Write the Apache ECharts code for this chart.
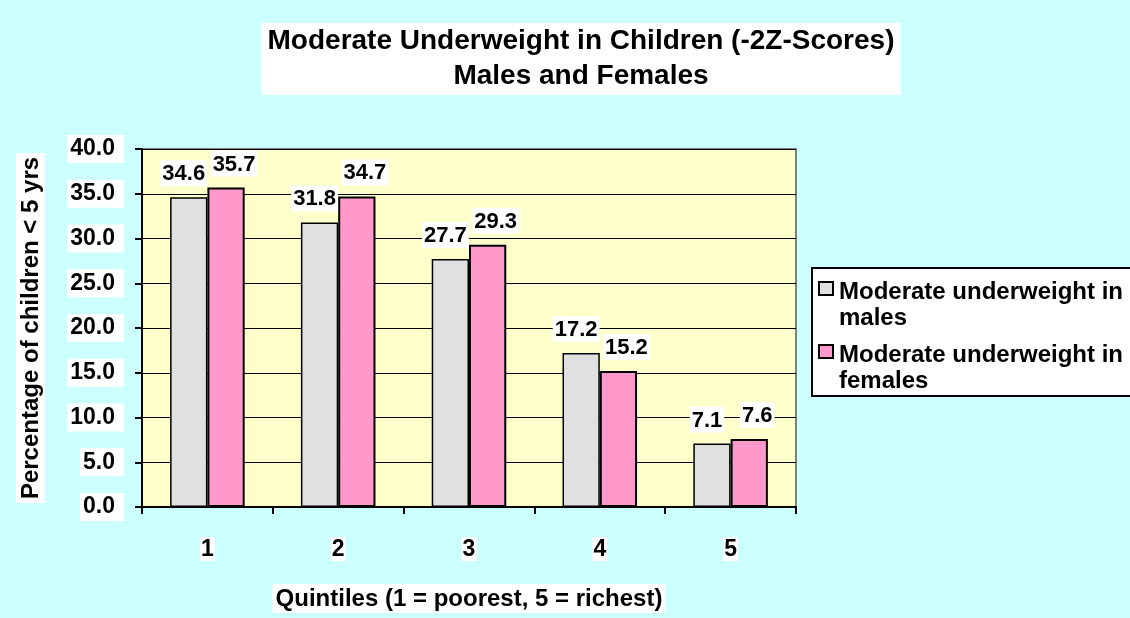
<!DOCTYPE html>
<html>
<head>
<meta charset="utf-8">
<script src="https://cdn.jsdelivr.net/npm/echarts@6/dist/echarts.min.js"></script>
<style>
html, body { margin: 0; padding: 0; background: #CCFFFF; }
#main { width: 1130px; height: 618px; }
</style>
</head>
<body>
<div id="main"></div>
<script>
var quintiles = ['1', '2', '3', '4', '5'];
var males = [34.6, 31.8, 27.7, 17.2, 7.1];
var females = [35.7, 34.7, 29.3, 15.2, 7.6];
var yTicks = [0, 5, 10, 15, 20, 25, 30, 35, 40];

var myChart = echarts.init(document.getElementById('main'));

var font = 'Arial, "Liberation Sans", sans-serif';

// value labels sit in little white boxes, like the excel original
function labelBox(dx) {
    return {
        show: true,
        position: 'top',
        distance: 11,
        offset: [dx, 0],
        color: '#000',
        fontFamily: font,
        fontWeight: 'bold',
        fontSize: 22,
        backgroundColor: '#fff',
        padding: [3, 2, 1, 2],
        formatter: function (p) { return p.value.toFixed(1); }
    };
}

myChart.setOption({
    backgroundColor: '#CCFFFF',
    title: {
        text: 'Moderate Underweight in Children (-2Z-Scores)\nMales and Females',
        left: 575,
        textAlign: 'center',
        top: 23,
        backgroundColor: '#fff',
        padding: [1, 6, 1, 6],
        textStyle: {
            fontFamily: font,
            fontWeight: 'bold',
            fontSize: 28,
            lineHeight: 35,
            color: '#000'
        }
    },
    legend: {
        orient: 'vertical',
        left: 812,
        top: 268,
        itemWidth: 15,
        itemHeight: 52,
        itemGap: 9,
        padding: [10, 40, 1, 6],
        backgroundColor: '#fff',
        borderColor: '#000',
        borderWidth: 2,
        borderRadius: 0,
        // square at the top of a tall box so it lines up with the first text line
        icon: 'path://M0,0M0,3L14,3L14,16L0,16ZM15,52',
        itemStyle: { borderColor: '#000', borderWidth: 2 },
        data: ['Moderate underweight in males', 'Moderate underweight in females'],
        formatter: function (n) { return n.replace('in ', 'in\n'); },
        textStyle: {
            fontFamily: font,
            fontWeight: 'bold',
            fontSize: 24,
            lineHeight: 26,
            color: '#000'
        }
    },
    grid: {
        left: 142,
        right: 334,
        top: 149,
        bottom: 107,
        show: true,
        backgroundColor: '#FFFFCC',
        borderColor: '#808080',
        borderWidth: 2
    },
    xAxis: {
        type: 'category',
        data: quintiles,
        name: 'Quintiles (1 = poorest, 5 = richest)',
        nameLocation: 'middle',
        nameGap: 77,
        nameTextStyle: {
            fontFamily: font,
            fontWeight: 'bold',
            fontSize: 24,
            color: '#000',
            backgroundColor: '#fff',
            padding: [3, 3, 2, 3]
        },
        axisLine: { lineStyle: { color: '#000', width: 2 } },
        axisTick: { show: true, length: 7, lineStyle: { color: '#000', width: 2 } },
        axisLabel: {
            margin: 30,
            fontFamily: font,
            fontWeight: 'bold',
            fontSize: 23,
            color: '#000',
            backgroundColor: '#fff',
            padding: [1, 1, 0, 1]
        }
    },
    yAxis: {
        type: 'value',
        min: yTicks[0],
        max: yTicks[yTicks.length - 1],
        interval: 5,
        name: 'Percentage of children < 5 yrs',
        nameLocation: 'middle',
        nameGap: 97,
        nameTextStyle: {
            fontFamily: font,
            fontWeight: 'bold',
            fontSize: 24,
            color: '#000',
            backgroundColor: '#fff',
            padding: [3, 4, 2, 4]
        },
        axisLine: { show: true, lineStyle: { color: '#000', width: 2 } },
        axisTick: { show: true, length: 7, lineStyle: { color: '#000', width: 2 } },
        splitLine: { lineStyle: { color: '#000', width: 1 } },
        axisLabel: {
            margin: 18,
            fontFamily: font,
            fontWeight: 'bold',
            fontSize: 23,
            color: '#000',
            backgroundColor: '#fff',
            padding: [3, 9, 2, 3],
            formatter: function (v) { return v.toFixed(1); }
        }
    },
    series: [{
        name: 'Moderate underweight in males',
        type: 'bar',
        data: males,
        barGap: '0%',
        barCategoryGap: '43%',
        itemStyle: { color: '#E0E0E0', borderColor: '#000', borderWidth: 1.5 },
        label: labelBox(-5)
    }, {
        name: 'Moderate underweight in females',
        type: 'bar',
        data: females,
        itemStyle: { color: '#FF99CC', borderColor: '#000', borderWidth: 2 },
        label: labelBox(8)
    }]
});
</script>
</body>
</html>
